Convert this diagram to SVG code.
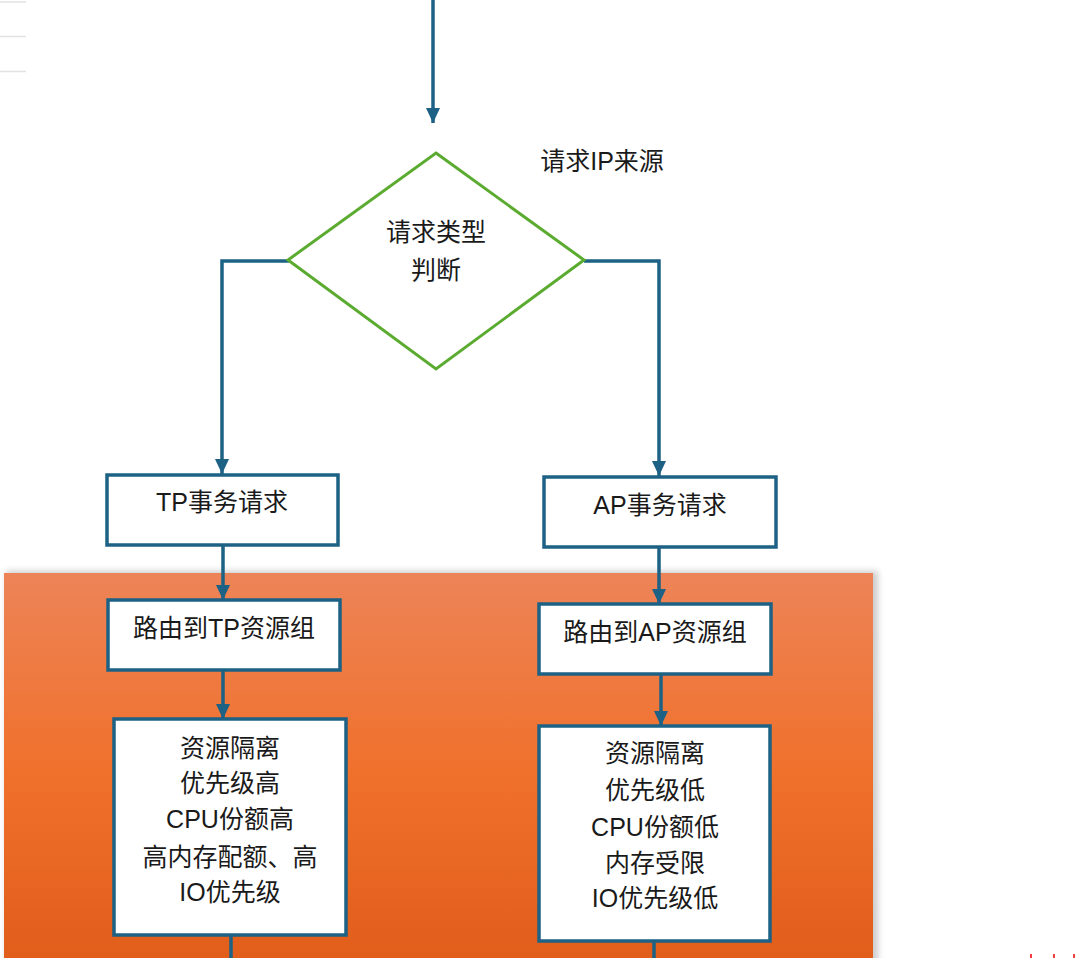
<svg xmlns="http://www.w3.org/2000/svg" width="1080" height="958" viewBox="0 0 1080 958">
<style>
.box{fill:#ffffff;stroke:#1d6285;stroke-width:3.5}
.conn{fill:none;stroke:#1d6285;stroke-width:3.5}
.t{font-family:"Liberation Sans","Noto Sans CJK SC",sans-serif;font-size:25px;fill:#1a1a1a;text-anchor:middle;dominant-baseline:central}
</style>
<defs>
<marker id="arr" markerUnits="userSpaceOnUse" markerWidth="16" markerHeight="16" viewBox="0 0 16 16" refX="15" refY="8" orient="auto">
<path d="M0,1 L15,8 L0,15 Z" fill="#1d6285"/>
</marker>
<linearGradient id="og" x1="0" y1="0" x2="0" y2="1">
<stop offset="0" stop-color="#ed8458"/>
<stop offset="0.5" stop-color="#f0712c"/>
<stop offset="1" stop-color="#e05d1a"/>
</linearGradient>
<filter id="sh" x="-5%" y="-5%" width="110%" height="110%">
<feGaussianBlur stdDeviation="3"/>
</filter>
</defs>
<rect width="1080" height="958" fill="#ffffff"/>
<g id="marks">
<line x1="0" y1="2" x2="26" y2="2" stroke="#e2e2e2" stroke-width="1.5"/>
<line x1="0" y1="36.5" x2="26" y2="36.5" stroke="#e2e2e2" stroke-width="1.5"/>
<line x1="0" y1="71.5" x2="26" y2="71.5" stroke="#e2e2e2" stroke-width="1.5"/>
<rect x="1030" y="954" width="2" height="4" fill="#f04040"/>
<rect x="1053" y="954" width="2" height="4" fill="#f04040"/>
<rect x="1073" y="954" width="2" height="4" fill="#f04040"/>
</g>
<g id="panel">
<rect x="6" y="571" width="872" height="400" fill="#9a9a9a" opacity="0.5" filter="url(#sh)"/>
<rect x="4" y="573" width="869" height="390" fill="url(#og)"/>
</g>
<g id="connectors">
<line class="conn" x1="433" y1="0" x2="433" y2="123" marker-end="url(#arr)"/>
<polyline class="conn" points="289,261 222,261 222,474" marker-end="url(#arr)"/>
<polyline class="conn" points="584,261 659,261 659,476" marker-end="url(#arr)"/>
<line class="conn" x1="223" y1="545" x2="223" y2="600" marker-end="url(#arr)"/>
<line class="conn" x1="659" y1="547" x2="659" y2="604" marker-end="url(#arr)"/>
<line class="conn" x1="223" y1="670" x2="223" y2="719" marker-end="url(#arr)"/>
<line class="conn" x1="661" y1="674" x2="661" y2="726" marker-end="url(#arr)"/>
<line class="conn" x1="231" y1="935" x2="231" y2="958"/>
<line class="conn" x1="654" y1="941" x2="654" y2="958"/>
</g>
<g id="label-ip">
<text class="t" x="602" y="161">请求IP来源</text>
</g>
<g id="decision">
<polygon points="436,153 584,260 436,369 288,260" fill="#ffffff" stroke="#5aab2f" stroke-width="3"/>
<text class="t" x="436" y="232">请求类型</text>
<text class="t" x="436" y="270">判断</text>
</g>
<g id="tp-request">
<rect class="box" x="107" y="475" width="231" height="70"/>
<text class="t" x="222" y="502">TP事务请求</text>
</g>
<g id="ap-request">
<rect class="box" x="544" y="477" width="232" height="70"/>
<text class="t" x="660" y="505">AP事务请求</text>
</g>
<g id="tp-route">
<rect class="box" x="108" y="600" width="232" height="70"/>
<text class="t" x="224" y="628">路由到TP资源组</text>
</g>
<g id="ap-route">
<rect class="box" x="539" y="604" width="232" height="70"/>
<text class="t" x="655" y="632">路由到AP资源组</text>
</g>
<g id="tp-resource">
<rect class="box" x="114" y="719" width="232" height="216"/>
<text class="t" x="230" y="748">资源隔离</text>
<text class="t" x="230" y="783">优先级高</text>
<text class="t" x="230" y="819">CPU份额高</text>
<text class="t" x="230" y="857">高内存配额、高</text>
<text class="t" x="230" y="892">IO优先级</text>
</g>
<g id="ap-resource">
<rect class="box" x="539" y="726" width="231" height="215"/>
<text class="t" x="655" y="753">资源隔离</text>
<text class="t" x="655" y="790">优先级低</text>
<text class="t" x="655" y="827">CPU份额低</text>
<text class="t" x="655" y="863">内存受限</text>
<text class="t" x="655" y="898">IO优先级低</text>
</g>
</svg>
